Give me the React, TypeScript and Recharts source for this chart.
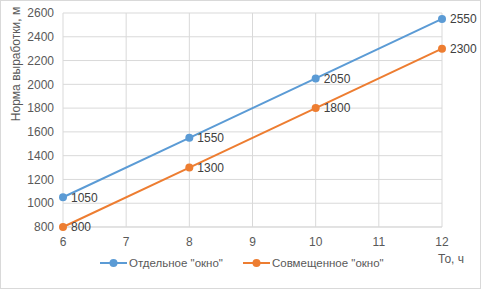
import { LineChart, Line, XAxis, YAxis, CartesianGrid, LabelList, Label } from 'recharts';

const hours = [6, 8, 10, 12];
const separateWindow = [1050, 1550, 2050, 2550];
const combinedWindow = [800, 1300, 1800, 2300];
const xTicks = [6, 7, 8, 9, 10, 11, 12];
const yTicks = [800, 1000, 1200, 1400, 1600, 1800, 2000, 2200, 2400, 2600];

const seriesNames = ['Отдельное "окно"', 'Совмещенное "окно"'];
const BLUE = '#5B9BD5';
const ORANGE = '#ED7D31';
const FONT = '"Liberation Sans", Arial, sans-serif';

const data = hours.map((h, i) => ({ h, a: separateWindow[i], b: combinedWindow[i] }));

function ChartLegend() {
  const items = [
    { name: seriesNames[0], color: BLUE },
    { name: seriesNames[1], color: ORANGE },
  ];
  return (
    <div
      style={{
        position: 'absolute',
        left: 99,
        top: 256,
        display: 'flex',
        gap: 20,
        fontFamily: FONT,
        fontSize: 11.5,
        color: '#595959',
      }}
    >
      {items.map((it) => (
        <div key={it.name} style={{ display: 'flex', alignItems: 'center' }}>
          <svg width={27} height={10} style={{ marginRight: 2 }}>
            <line x1={0} y1={5} x2={27} y2={5} stroke={it.color} strokeWidth={2} />
            <circle cx={13.5} cy={5} r={4} fill={it.color} />
          </svg>
          <span>{it.name}</span>
        </div>
      ))}
    </div>
  );
}

export default function App() {
  return (
    <div
      style={{
        position: 'absolute',
        left: 0,
        top: 0,
        width: 481,
        height: 289,
        background: '#fff',
        boxSizing: 'border-box',
        border: '1px solid #d9d9d9',
      }}
    >
      <LineChart width={479} height={287} data={data} margin={{ top: 12, right: 38, bottom: 0, left: 0 }}>
        <CartesianGrid stroke="#d9d9d9" vertical horizontal />
        <XAxis
          dataKey="h"
          type="number"
          domain={[6, 12]}
          ticks={xTicks}
          height={61}
          tickSize={0}
          tickMargin={10}
          axisLine={{ stroke: '#d9d9d9' }}
          tick={{ fill: '#595959', fontSize: 12, fontFamily: FONT }}
        >
          <Label
            content={() => (
              <text x={437} y={262} fill="#595959" fontSize={12} fontFamily={FONT}>
                То, ч
              </text>
            )}
          />
        </XAxis>
        <YAxis
          type="number"
          domain={[800, 2600]}
          ticks={yTicks}
          width={62}
          tickSize={0}
          tickMargin={9}
          axisLine={false}
          tick={{ fill: '#595959', fontSize: 12, fontFamily: FONT }}
        >
          <Label
            content={() => (
              <text
                x={19}
                y={63}
                transform="rotate(-90 19 63)"
                textAnchor="middle"
                fill="#595959"
                fontSize={12}
                fontFamily={FONT}
              >
                Норма выработки, м
              </text>
            )}
          />
        </YAxis>
        <Line
          dataKey="a"
          name={seriesNames[0]}
          stroke={BLUE}
          strokeWidth={2}
          dot={{ r: 4, fill: BLUE, stroke: BLUE, strokeWidth: 0 }}
          isAnimationActive={false}
        >
          <LabelList dataKey="a" position="right" offset={8} fill="#404040" fontSize={12} fontFamily={FONT} />
        </Line>
        <Line
          dataKey="b"
          name={seriesNames[1]}
          stroke={ORANGE}
          strokeWidth={2}
          dot={{ r: 4, fill: ORANGE, stroke: ORANGE, strokeWidth: 0 }}
          isAnimationActive={false}
        >
          <LabelList dataKey="b" position="right" offset={8} fill="#404040" fontSize={12} fontFamily={FONT} />
        </Line>
      </LineChart>
      <ChartLegend />
    </div>
  );
}
